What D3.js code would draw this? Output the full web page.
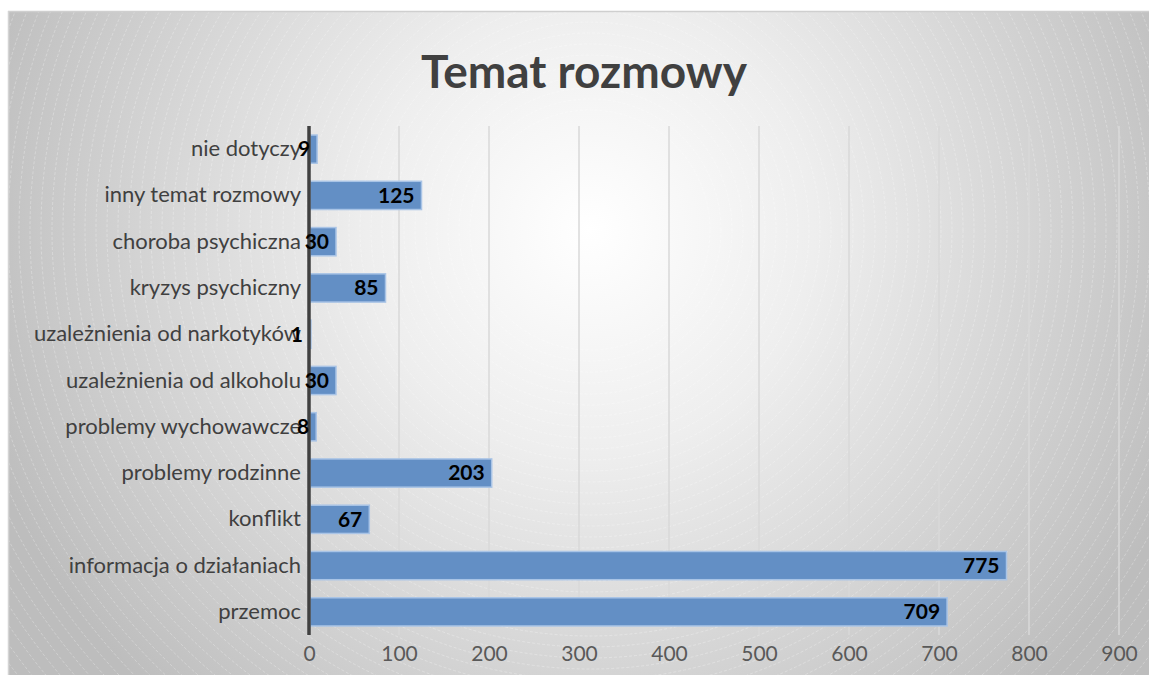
<!DOCTYPE html>
<html><head><meta charset="utf-8">
<script src="https://cdn.jsdelivr.net/npm/d3@7"></script>
<style>html,body{margin:0;padding:0;background:#fff;}svg{display:block;}</style>
</head><body>
<svg id="chart" width="1149" height="675"></svg>
<script>
const categories = ["nie dotyczy","inny temat rozmowy","choroba psychiczna","kryzys psychiczny","uzależnienia od narkotyków","uzależnienia od alkoholu","problemy wychowawcze","problemy rodzinne","konflikt","informacja o działaniach","przemoc"];
const values = [9,125,30,85,1,30,8,203,67,775,709];
const tickValues = [0,100,200,300,400,500,600,700,800,900];
const title = "Temat rozmowy";

const svg = d3.select("#chart");
const W = 1149, H = 675;
const font = "Lato, 'Open Sans', sans-serif";

const defs = svg.append("defs");
const grad = defs.append("radialGradient").attr("id","bg")
  .attr("gradientUnits","userSpaceOnUse").attr("cx",590).attr("cy",230).attr("r",640);
grad.append("stop").attr("offset","0").attr("stop-color","#ffffff");
grad.append("stop").attr("offset","0.35").attr("stop-color","#eeeeee");
grad.append("stop").attr("offset","1").attr("stop-color","#bdbdbd");
defs.append("clipPath").attr("id","clip").append("rect").attr("x",8).attr("y",11).attr("width",W-8).attr("height",H-11);

svg.append("rect").attr("x",8).attr("y",11).attr("width",W-8).attr("height",H-11).attr("fill","url(#bg)");
const rings = svg.append("g").attr("clip-path","url(#clip)");
for (let r = 120; r < 900; r += 11) {
  rings.append("circle").attr("cx",590).attr("cy",230).attr("r",r)
    .attr("fill","none").attr("stroke","#ffffff").attr("stroke-opacity",0.35)
    .attr("stroke-width",0.8).attr("stroke-dasharray","3,2");
}
svg.append("line").attr("x1",8).attr("x2",W).attr("y1",11.5).attr("y2",11.5).attr("stroke","#cfcfcf").attr("stroke-width",1.5);
svg.append("line").attr("x1",8.5).attr("x2",8.5).attr("y1",11).attr("y2",H).attr("stroke","#d4d4d4").attr("stroke-width",1.5);

const plotTop = 126, plotBottom = 635;
const x = d3.scaleLinear().domain([0,900]).range([309,1119]);
const y = d3.scaleBand().domain(categories).range([plotTop,plotBottom]).paddingInner(0.39).paddingOuter(0.195);

svg.append("text").attr("x",584).attr("y",88).attr("text-anchor","middle")
  .attr("font-family",font).attr("font-weight","bold").attr("font-size",46).attr("fill","#404040").text(title);

svg.append("g").selectAll("line").data(tickValues.filter(d=>d>0)).join("line")
  .attr("x1",d=>x(d)).attr("x2",d=>x(d)).attr("y1",plotTop).attr("y2",plotBottom)
  .attr("stroke","#d9d9d9").attr("stroke-width",1.5);

const xAxis = d3.axisBottom(x).tickValues(tickValues).tickSize(0).tickPadding(0);
const gx = svg.append("g").attr("transform","translate(0,646)").call(xAxis);
gx.select(".domain").remove();
gx.selectAll("text").attr("font-family",font).attr("font-size",21).attr("fill","#595959").attr("dy","0.71em");

svg.append("g").selectAll("rect").data(values).join("rect")
  .attr("x",x(0)+1).attr("y",(d,i)=>y(categories[i]))
  .attr("width",d=>Math.max(x(d)-x(0)-1,1)).attr("height",y.bandwidth())
  .attr("fill","#638fc5").attr("stroke","#a9c4e6").attr("stroke-width",1.5);

const yAxis = d3.axisLeft(y).tickSize(0).tickPadding(8);
const gy = svg.append("g").attr("transform",`translate(${x(0)},0)`).call(yAxis);
gy.select(".domain").remove();
gy.selectAll("text").attr("font-family",font).attr("font-size",22).attr("fill","#404040");

svg.append("line").attr("x1",x(0)).attr("x2",x(0)).attr("y1",plotTop).attr("y2",plotBottom)
  .attr("stroke","#404040").attr("stroke-width",3.5);

svg.append("g").selectAll("text").data(values).join("text")
  .attr("x",d=>x(d)-7).attr("y",(d,i)=>y(categories[i])+y.bandwidth()/2).attr("dy","0.35em")
  .attr("text-anchor","end").attr("font-family",font).attr("font-weight","bold")
  .attr("font-size",21).attr("fill","#000").text(d=>d);
</script>
</body></html>
